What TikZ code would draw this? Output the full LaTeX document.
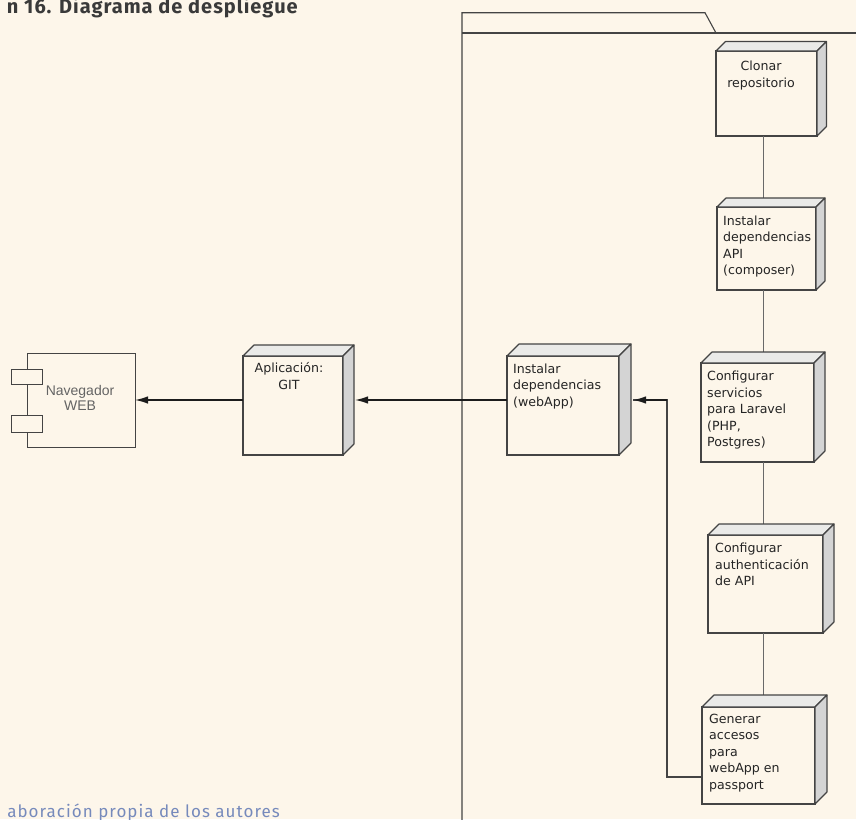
\documentclass[tikz,border=0pt]{standalone}
\usepackage{fontspec}
\setmainfont{DejaVu Sans}
\newfontfamily\navfont{Liberation Sans}
\newfontfamily\headfont[LetterSpace=5]{Fira Sans}
\newfontfamily\sourcefont[LetterSpace=6]{Fira Sans}
\usetikzlibrary{arrows.meta}

\definecolor{paper}{RGB}{253,246,234}
\definecolor{edge}{RGB}{68,68,68}
\definecolor{topface}{RGB}{234,234,232}
\definecolor{sideface}{RGB}{212,212,212}
\definecolor{nodetext}{RGB}{36,36,36}
\definecolor{navtext}{RGB}{100,100,100}
\definecolor{wire}{RGB}{105,105,105}
\definecolor{flow}{RGB}{28,28,28}
\definecolor{titletext}{RGB}{58,58,58}
\definecolor{sourcetext}{RGB}{118,138,188}

% multi-line label whose baseline is the first line
\newcommand\leftlines[1]{\begin{tabular}[t]{@{}l@{}}#1\end{tabular}}
\newcommand\midlines[1]{\begin{tabular}[t]{@{}c@{}}#1\end{tabular}}

% top and right faces of a 3D node box
\newcommand\devfaces[2]{%
  \filldraw[face, fill=topface] (#1.north west) -- ([xshift=#2pt,yshift=#2pt]#1.north west)
    -- ([xshift=#2pt,yshift=#2pt]#1.north east) -- (#1.north east) -- cycle;
  \filldraw[face, fill=sideface] (#1.north east) -- ([xshift=#2pt,yshift=#2pt]#1.north east)
    -- ([xshift=#2pt,yshift=#2pt]#1.south east) -- (#1.south east) -- cycle;
}

\tikzset{
  x=1pt, y=-1pt,
  devbox/.style={draw=edge, line width=1.1pt, fill=paper, rectangle,
    inner sep=0pt, outer sep=0pt},
  face/.style={draw=edge, line width=1.1pt, line join=round},
  devtext/.style={inner sep=0pt, text=nodetext,
    font=\fontsize{12.6}{16.5}\selectfont},
  navbox/.style={draw=edge, line width=1pt, fill=paper, rectangle,
    inner sep=0pt, outer sep=0pt},
  pkg/.style={draw=edge, line width=1.1pt},
  link/.style={draw=wire, line width=1pt},
  flowline/.style={draw=flow, line width=1.4pt},
  flowarrow/.style={flowline, -{Latex[length=13pt,width=7.5pt]}},
  backline/.style={draw=edge, line width=1.1pt},
}

\begin{document}
\begin{tikzpicture}
\fill[paper] (0,0) rectangle (856,819);
\useasboundingbox (0,0) rectangle (856,819);

% heading and source line
\node[anchor=base east, inner sep=0pt, text=titletext,
  font=\headfont\bfseries\fontsize{20}{23}\selectfont] (title) at (298,13.3)
  {n 16. Diagrama de despliegue};
\node[anchor=base east, inner sep=0pt, text=sourcetext,
  font=\sourcefont\fontsize{17}{20}\selectfont] (source) at (280,817.5)
  {aboración propia de los autores};

% package frame with tab
\draw[pkg] (462,830) -- (462,12.7) -- (705,12.7) -- (716,33);
\draw[pkg] (462,33) -- (870,33);

% browser component
\node[navbox, minimum width=108pt, minimum height=94pt] (nav) at (81,400) {};
\node[navbox, minimum width=31pt, minimum height=15pt] (nav-c1) at (26.5,376.5) {};
\node[navbox, minimum width=31pt, minimum height=17pt] (nav-c2) at (26.5,423.5) {};
\node[anchor=base, inner sep=0pt, text=navtext,
  font=\navfont\fontsize{14}{15.7}\selectfont] (nav-t) at (80,395)
  {\midlines{Navegador\\WEB}};

% deployment nodes (front faces)
\node[devbox, minimum width=100pt, minimum height=99pt] (git) at (293,405.5) {};
\node[devbox, minimum width=112pt, minimum height=99pt] (webapp) at (563,405.5) {};
\node[devbox, minimum width=101pt, minimum height=85pt] (clonar) at (766.5,93.5) {};
\node[devbox, minimum width=99pt, minimum height=83pt] (instapi) at (766.5,248.5) {};
\node[devbox, minimum width=113pt, minimum height=99pt] (confserv) at (757.5,412.5) {};
\node[devbox, minimum width=115pt, minimum height=98pt] (confauth) at (765.5,584) {};
\node[devbox, minimum width=113pt, minimum height=97pt] (generar) at (758.5,755.5) {};

% links of the setup sequence
\coordinate (colx) at (763,0);
\draw[link] (clonar.south -| colx) -- (instapi.north -| colx);
\draw[link] (instapi.south -| colx) -- (confserv.north -| colx);
\draw[link] (confserv.south -| colx) -- (confauth.north -| colx);
\draw[link] (confauth.south -| colx) -- (generar.north -| colx);

% depth faces
\devfaces{git}{11}
\devfaces{webapp}{12}
\devfaces{clonar}{9.5}
\devfaces{instapi}{9}
\devfaces{confserv}{11}
\devfaces{confauth}{11}
\devfaces{generar}{12}

% labels
\node[devtext, anchor=base] (git-t) at (289,372.7) {\midlines{Aplicación:\\GIT}};
\node[devtext, anchor=base west] (webapp-t) at (513,373.3)
  {\leftlines{Instalar\\dependencias\\(webApp)}};
\node[devtext, anchor=base] (clonar-t) at (761,70.7) {\midlines{Clonar\\repositorio}};
\node[devtext, anchor=base west] (instapi-t) at (723,225)
  {\leftlines{Instalar\\dependencias\\API\\(composer)}};
\node[devtext, anchor=base west] (confserv-t) at (707,380.7)
  {\leftlines{Configurar\\servicios\\para Laravel\\(PHP,\\Postgres)}};
\node[devtext, anchor=base west] (confauth-t) at (715,552.7)
  {\leftlines{Configurar\\authenticación\\de API}};
\node[devtext, anchor=base west] (generar-t) at (709,723.3)
  {\leftlines{Generar\\accesos\\para\\webApp en\\passport}};

% flows between nodes
\coordinate (bendA) at (667,777);
\coordinate (bendB) at (667,400);
\coordinate (webapp-back) at ([xshift=14pt]webapp.east);
\coordinate (git-back) at ([xshift=12pt]git.east);
\draw[backline] (generar.west |- bendA) -- (bendA) -- (bendB) -- (webapp-back |- bendB);
\draw[flowarrow] (bendB) -- (webapp-back |- bendB);
\draw[flowarrow] (webapp.west |- bendB) -- (git-back |- bendB);
\draw[flowarrow] (git.west |- nav.east) -- (nav.east);
\end{tikzpicture}
\end{document}
